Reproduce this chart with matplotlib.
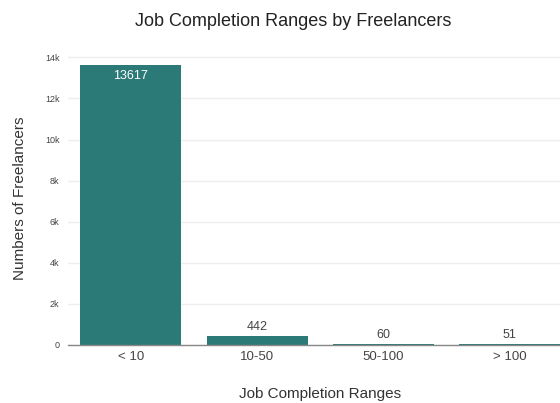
import matplotlib.pyplot as plt
from matplotlib.ticker import FuncFormatter

plt.rcParams["font.family"] = ["Liberation Sans", "DejaVu Sans"]

categories = ["< 10", "10-50", "50-100", "> 100"]
counts = [13617, 442, 60, 51]

bar_color = "#2b7a77"

fig = plt.figure(figsize=(5.6, 4.03), dpi=100)
ax = fig.add_axes([0.121, 0.144, 0.902, 0.729])

x = range(len(categories))
bars = ax.bar(x, counts, width=0.8, color=bar_color, zorder=3)

# value labels: inside the tall bar, above the short ones
for i, v in enumerate(counts):
    if v > 5000:
        ax.text(i, v - 250, str(v), ha="center", va="top", color="white", fontsize=9)
    else:
        ax.text(i, v + 150, str(v), ha="center", va="bottom", color="#444444", fontsize=9)

ax.set_xlim(-0.5, 3.5)
ax.set_ylim(0, 14300)
ax.set_xticks(list(x))
ax.set_xticklabels(categories)
ax.set_yticks(range(0, 14001, 2000))
ax.yaxis.set_major_formatter(FuncFormatter(lambda v, p: "0" if v == 0 else f"{int(v / 1000)}k"))

ax.tick_params(axis="both", length=0, colors="#444444")
ax.tick_params(axis="x", labelsize=9.5, pad=4)
ax.tick_params(axis="y", labelsize=6.5, pad=6)
ax.grid(axis="y", color="#eeeeee", linewidth=1, zorder=0)
for side in ["top", "right", "left"]:
    ax.spines[side].set_visible(False)
ax.spines["bottom"].set_color("#888888")
ax.spines["bottom"].set_linewidth(1)
ax.spines["bottom"].set_zorder(4)

fig.text(0.572, 1 - 394 / 403, "Job Completion Ranges", ha="center", va="center",
         fontsize=11, color="#333333")
fig.text(20 / 560, 1 - 198 / 403, "Numbers of Freelancers", ha="center", va="center",
         rotation=90, fontsize=11, color="#333333")
fig.text(0.523, 1 - 22 / 403, "Job Completion Ranges by Freelancers", ha="center", va="center",
         fontsize=13, color="#222222")

fig.savefig("out.png", dpi=100)
